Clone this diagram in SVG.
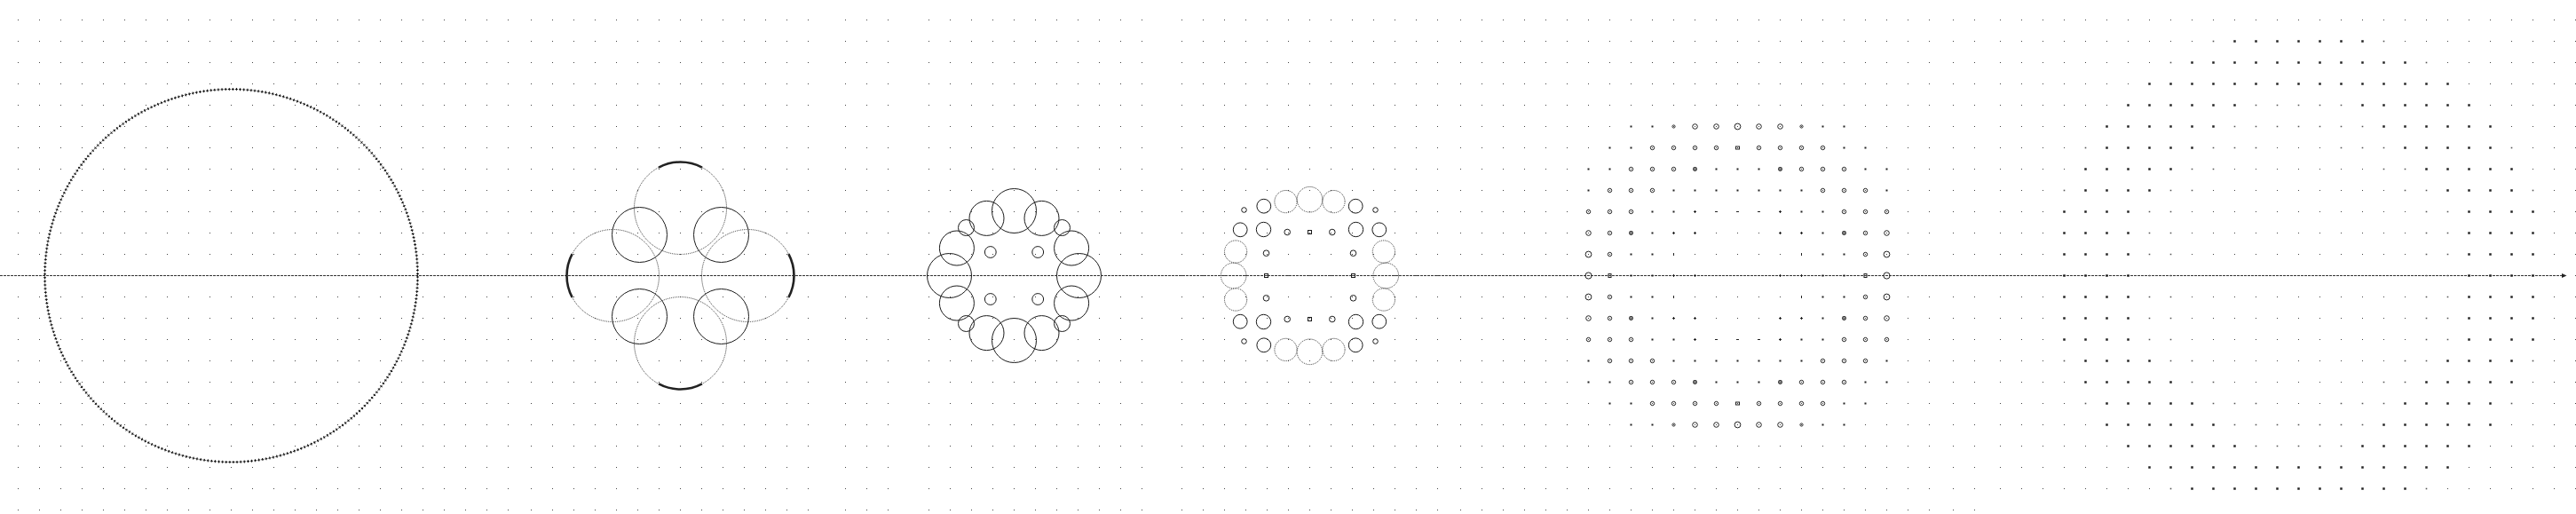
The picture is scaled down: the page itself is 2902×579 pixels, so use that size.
<svg xmlns="http://www.w3.org/2000/svg" width="2902" height="579" viewBox="0 0 2902 579">
<style>
.dot{fill:url(#gp)}
.sol{fill:none;stroke:#1a1a1a;stroke-width:1}
.dtd{fill:none;stroke:#333;stroke-width:1;stroke-dasharray:1 1}
.thk{fill:none;stroke:#222;stroke-width:2.6}
.pt{fill:none;stroke:#111;stroke-width:1;stroke-dasharray:3 1.1233}
.pr{fill:none;stroke:#111;stroke-width:3;stroke-dasharray:0 1 1 2.1233}
.b6{stroke:#222;stroke-width:2.5;stroke-dasharray:2.5 21.5}
.s6{stroke:#555;stroke-width:1.6;stroke-dasharray:1.6 22.4}
.s5{stroke:#222;stroke-width:2;stroke-dasharray:2 22}
.ln5{fill:none;stroke:#222;stroke-width:1}
.f5{fill:none;stroke:#222;stroke-width:1.3}
.axis{stroke:#333;stroke-width:1;stroke-dasharray:3 1}
</style>
<defs>
<pattern id="gp" width="24" height="24" patternUnits="userSpaceOnUse"><rect width="1" height="1" fill="#444"/></pattern>
</defs>
<rect width="2902" height="579" fill="#fff"/>
<g id="grid">
<rect class="dot" transform="translate(20,22)" width="553" height="553"/>
<rect class="dot" transform="translate(598,22)" width="313" height="553"/>
<rect class="dot" transform="translate(952,22)" width="49" height="553"/>
<rect class="dot" transform="translate(1046,22)" width="241" height="553"/>
<rect class="dot" transform="translate(1331,22)" width="289" height="553"/>
<rect class="dot" transform="translate(1645,22)" width="529" height="553"/>
<rect class="dot" transform="translate(2200,22)" width="25" height="553"/>
<rect class="dot" transform="translate(2253,22)" width="649" height="529"/>
</g>
<g id="axis">
<line class="axis" x1="0" y1="310.5" x2="2887" y2="310.5"/>
<polygon points="2891.5,310.5 2886,308 2886,313" fill="#222"/>
</g>
<g id="fig1">
<circle class="pt" cx="260.5" cy="310.5" r="210"/>
<circle class="pr" cx="260.5" cy="310.5" r="210"/>
</g>
<g id="fig2" transform="translate(766.5,310.5)">
<circle class="dtd" cx="0" cy="-76" r="52"/>
<circle class="dtd" cx="0" cy="76" r="52"/>
<circle class="dtd" cx="-76" cy="0" r="52"/>
<circle class="dtd" cx="76" cy="0" r="52"/>
<circle class="sol" cx="-46" cy="-46" r="31"/>
<circle class="sol" cx="46" cy="-46" r="31"/>
<circle class="sol" cx="-46" cy="46" r="31"/>
<circle class="sol" cx="46" cy="46" r="31"/>
<path class="thk" d="M-24.41 -121.91A52 52 0 0 1 24.41 -121.91"/>
<path class="thk" d="M-24.41 121.91A52 52 0 0 0 24.41 121.91"/>
<path class="thk" d="M-121.91 -24.41A52 52 0 0 0 -121.91 24.41"/>
<path class="thk" d="M121.91 -24.41A52 52 0 0 1 121.91 24.41"/>
</g>
<g id="fig3" class="sol" transform="translate(1142.5,310.5)">
<circle cx="0" cy="-73" r="25"/>
<circle cx="0" cy="73" r="25"/>
<circle cx="-73" cy="0" r="25"/>
<circle cx="73" cy="0" r="25"/>
<circle cx="64.6" cy="31" r="19.5"/>
<circle cx="64.6" cy="-31" r="19.5"/>
<circle cx="-64.6" cy="31" r="19.5"/>
<circle cx="-64.6" cy="-31" r="19.5"/>
<circle cx="31" cy="64.6" r="19.5"/>
<circle cx="31" cy="-64.6" r="19.5"/>
<circle cx="-31" cy="64.6" r="19.5"/>
<circle cx="-31" cy="-64.6" r="19.5"/>
<circle cx="54" cy="54" r="9"/>
<circle cx="54" cy="-54" r="9"/>
<circle cx="-54" cy="54" r="9"/>
<circle cx="-54" cy="-54" r="9"/>
<circle cx="26.7" cy="26.5" r="6.4"/>
<circle cx="26.7" cy="-26.5" r="6.4"/>
<circle cx="-26.7" cy="26.5" r="6.4"/>
<circle cx="-26.7" cy="-26.5" r="6.4"/>
</g>
<g id="fig4" transform="translate(1475.5,310.5)">
<g class="dtd">
<circle cx="0" cy="-85.8" r="14.3"/>
<circle cx="0" cy="85.8" r="14.3"/>
<circle cx="-85.8" cy="0" r="14.3"/>
<circle cx="85.8" cy="0" r="14.3"/>
<circle cx="27" cy="-83.4" r="12.6"/>
<circle cx="-27" cy="-83.4" r="12.6"/>
<circle cx="27" cy="83.4" r="12.6"/>
<circle cx="-27" cy="83.4" r="12.6"/>
<circle cx="83.4" cy="27" r="12.6"/>
<circle cx="83.4" cy="-27" r="12.6"/>
<circle cx="-83.4" cy="27" r="12.6"/>
<circle cx="-83.4" cy="-27" r="12.6"/>
</g>
<g class="sol">
<circle cx="51.7" cy="-78.3" r="7.9"/>
<circle cx="-51.7" cy="-78.3" r="7.9"/>
<circle cx="51.7" cy="78.3" r="7.9"/>
<circle cx="-51.7" cy="78.3" r="7.9"/>
<circle cx="78.3" cy="-51.7" r="7.9"/>
<circle cx="-78.3" cy="-51.7" r="7.9"/>
<circle cx="78.3" cy="51.7" r="7.9"/>
<circle cx="-78.3" cy="51.7" r="7.9"/>
<circle cx="52" cy="52" r="8.2"/>
<circle cx="-52" cy="52" r="8.2"/>
<circle cx="52" cy="-52" r="8.2"/>
<circle cx="-52" cy="-52" r="8.2"/>
<circle cx="74" cy="74" r="2.8"/>
<circle cx="-74" cy="74" r="2.8"/>
<circle cx="74" cy="-74" r="2.8"/>
<circle cx="-74" cy="-74" r="2.8"/>
<circle cx="25.3" cy="-49" r="3.3"/>
<circle cx="-25.3" cy="-49" r="3.3"/>
<circle cx="25.3" cy="49" r="3.3"/>
<circle cx="-25.3" cy="49" r="3.3"/>
<circle cx="49" cy="-25.3" r="3.3"/>
<circle cx="-49" cy="-25.3" r="3.3"/>
<circle cx="49" cy="25.3" r="3.3"/>
<circle cx="-49" cy="25.3" r="3.3"/>
<rect x="-2" y="-51" width="4" height="4"/>
<rect x="-2" y="47" width="4" height="4"/>
<rect x="-51" y="-2" width="4" height="4"/>
<rect x="47" y="-2" width="4" height="4"/>
</g>
</g>
<g id="fig5" transform="translate(1957.5,310.5)">
<g id="f5t">
<g class="s5">
<line x1="-121" y1="-168" x2="-95" y2="-168"/><line x1="95" y1="-168" x2="121" y2="-168"/>
<line x1="-145" y1="-144" x2="-119" y2="-144"/><line x1="119" y1="-144" x2="145" y2="-144"/>
<line x1="-169" y1="-120" x2="-143" y2="-120"/><line x1="143" y1="-120" x2="169" y2="-120"/><line x1="-25" y1="-120" x2="25" y2="-120"/>
<line x1="-169" y1="-96" x2="-167" y2="-96"/><line x1="167" y1="-96" x2="169" y2="-96"/><line x1="-73" y1="-96" x2="73" y2="-96"/>
<line x1="-97" y1="-72" x2="-71" y2="-72"/><line x1="71" y1="-72" x2="97" y2="-72"/>
<line x1="-97" y1="-48" x2="-95" y2="-48"/><line x1="95" y1="-48" x2="97" y2="-48"/>
<line x1="-121" y1="-24" x2="-95" y2="-24"/><line x1="95" y1="-24" x2="121" y2="-24"/>
</g>
<g class="ln5">
<circle cx="-72" cy="-168" r="1.6"/><circle cx="72" cy="-168" r="1.6"/>
<circle cx="-48" cy="-168" r="2.8"/><circle cx="48" cy="-168" r="2.8"/>
<circle cx="-24" cy="-168" r="2.8"/><circle cx="24" cy="-168" r="2.8"/>
<circle cx="0" cy="-168" r="3.4"/>
<circle cx="-96" cy="-144" r="2.2"/><circle cx="96" cy="-144" r="2.2"/>
<circle cx="-72" cy="-144" r="2.2"/><circle cx="72" cy="-144" r="2.2"/>
<circle cx="-48" cy="-144" r="2.2"/><circle cx="48" cy="-144" r="2.2"/>
<circle cx="-24" cy="-144" r="2.2"/><circle cx="24" cy="-144" r="2.2"/>
<rect x="-2" y="-145.5" width="4" height="3"/>
<circle cx="-120" cy="-120" r="2.2"/><circle cx="120" cy="-120" r="2.2"/>
<circle cx="-96" cy="-120" r="2.2"/><circle cx="96" cy="-120" r="2.2"/>
<circle cx="-72" cy="-120" r="2.2"/><circle cx="72" cy="-120" r="2.2"/>
<circle cx="-144" cy="-96" r="2.2"/><circle cx="144" cy="-96" r="2.2"/>
<circle cx="-120" cy="-96" r="2.2"/><circle cx="120" cy="-96" r="2.2"/>
<circle cx="-96" cy="-96" r="2.2"/><circle cx="96" cy="-96" r="2.2"/>
<circle cx="-168" cy="-72" r="2.2"/><circle cx="168" cy="-72" r="2.2"/>
<circle cx="-144" cy="-72" r="2.2"/><circle cx="144" cy="-72" r="2.2"/>
<circle cx="-120" cy="-72" r="2.2"/><circle cx="120" cy="-72" r="2.2"/>
<circle cx="-168" cy="-48" r="2.8"/><circle cx="168" cy="-48" r="2.8"/>
<circle cx="-144" cy="-48" r="2.2"/><circle cx="144" cy="-48" r="2.2"/>
<circle cx="-168" cy="-24" r="3.4"/><circle cx="168" cy="-24" r="3.4"/>
<circle cx="-144" cy="-24" r="2.2"/><circle cx="144" cy="-24" r="2.2"/>
<path d="M-49.5 -72h3M-48 -73.5v3M46.5 -72h3M48 -73.5v3M-25.5 -72h3M-1.5 -72h3M22.5 -72h3M-73.5 -48h3M-72 -49.5v3M-49.5 -48h3M-48 -49.5v3M46.5 -48h3M48 -49.5v3M70.5 -48h3M72 -49.5v3M-72 -25.5v3M72 -25.5v3"/>
</g>
<g class="f5">
<circle cx="-48" cy="-120" r="1.8"/><circle cx="48" cy="-120" r="1.8"/>
<circle cx="-120" cy="-48" r="1.8"/><circle cx="120" cy="-48" r="1.8"/>
</g>
</g>
<use href="#f5t" transform="scale(1,-1)"/>
<g class="s5">
<line x1="-121" y1="0" x2="-95" y2="0"/><line x1="95" y1="0" x2="121" y2="0"/>
</g>
<g class="ln5">
<circle cx="-168" cy="0" r="3.6"/><circle cx="168" cy="0" r="3.6"/>
<rect x="-145.5" y="-2" width="3" height="4"/><rect x="142.5" y="-2" width="3" height="4"/>
<path d="M-73.5 0h3M-72 -1.5v3M-49.5 0h3M-48 -1.5v3M46.5 0h3M48 -1.5v3M70.5 0h3M72 -1.5v3"/>
</g>
</g>
<g id="fig6" transform="translate(2589.5,310.5)">
<line class="b6" x1="-73.25" y1="-264" x2="73.25" y2="-264"/>
<line class="s6" x1="-96.8" y1="-264" x2="-95.2" y2="-264"/><line class="s6" x1="95.2" y1="-264" x2="96.8" y2="-264"/>
<g id="f6t">
<line class="b6" x1="-121.25" y1="-240" x2="121.25" y2="-240"/>
<line class="s6" x1="-144.8" y1="-240" x2="-143.2" y2="-240"/><line class="s6" x1="143.2" y1="-240" x2="144.8" y2="-240"/>
<line class="b6" x1="-169.25" y1="-216" x2="169.25" y2="-216"/>
<line class="b6" x1="-193.25" y1="-192" x2="-70.75" y2="-192"/><line class="b6" x1="70.75" y1="-192" x2="193.25" y2="-192"/>
<line class="s6" x1="-48.8" y1="-192" x2="48.8" y2="-192"/>
<line class="b6" x1="-217.25" y1="-168" x2="-94.75" y2="-168"/><line class="b6" x1="94.75" y1="-168" x2="217.25" y2="-168"/>
<line class="s6" x1="-72.8" y1="-168" x2="72.8" y2="-168"/>
<line class="s6" x1="-240.8" y1="-144" x2="-239.2" y2="-144"/><line class="s6" x1="239.2" y1="-144" x2="240.8" y2="-144"/>
<line class="b6" x1="-217.25" y1="-144" x2="-118.75" y2="-144"/><line class="b6" x1="118.75" y1="-144" x2="217.25" y2="-144"/>
<line class="s6" x1="-96.8" y1="-144" x2="-47.2" y2="-144"/><line class="s6" x1="47.2" y1="-144" x2="96.8" y2="-144"/>
<line class="b6" x1="-241.25" y1="-120" x2="-142.75" y2="-120"/><line class="b6" x1="142.75" y1="-120" x2="241.25" y2="-120"/>
<line class="s6" x1="-120.8" y1="-120" x2="-95.2" y2="-120"/><line class="s6" x1="95.2" y1="-120" x2="120.8" y2="-120"/>
<line class="s6" x1="-264.8" y1="-96" x2="-263.2" y2="-96"/><line class="s6" x1="263.2" y1="-96" x2="264.8" y2="-96"/>
<line class="b6" x1="-241.25" y1="-96" x2="-166.75" y2="-96"/><line class="b6" x1="166.75" y1="-96" x2="241.25" y2="-96"/>
<line class="s6" x1="-144.8" y1="-96" x2="-119.2" y2="-96"/><line class="s6" x1="119.2" y1="-96" x2="144.8" y2="-96"/>
<line class="b6" x1="-265.25" y1="-72" x2="-190.75" y2="-72"/><line class="b6" x1="190.75" y1="-72" x2="265.25" y2="-72"/>
<line class="s6" x1="-168.8" y1="-72" x2="-143.2" y2="-72"/><line class="s6" x1="143.2" y1="-72" x2="168.8" y2="-72"/>
<line class="b6" x1="-265.25" y1="-48" x2="-190.75" y2="-48"/><line class="b6" x1="190.75" y1="-48" x2="265.25" y2="-48"/>
<line class="s6" x1="-168.8" y1="-48" x2="-143.2" y2="-48"/><line class="s6" x1="143.2" y1="-48" x2="168.8" y2="-48"/>
<line class="b6" x1="-265.25" y1="-24" x2="-190.75" y2="-24"/><line class="b6" x1="190.75" y1="-24" x2="265.25" y2="-24"/>
<line class="s6" x1="-168.8" y1="-24" x2="-143.2" y2="-24"/><line class="s6" x1="143.2" y1="-24" x2="168.8" y2="-24"/>
</g>
<use href="#f6t" transform="scale(1,-1)"/>
<line class="b6" x1="-265.25" y1="0" x2="-190.75" y2="0"/><line class="b6" x1="190.75" y1="0" x2="265.25" y2="0"/>
<line class="s6" x1="-168.8" y1="0" x2="-143.2" y2="0"/><line class="s6" x1="143.2" y1="0" x2="168.8" y2="0"/>
</g>
</svg>
